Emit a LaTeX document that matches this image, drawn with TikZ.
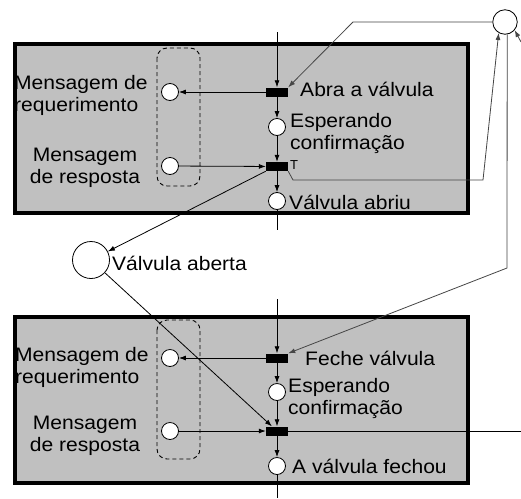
\documentclass[tikz,border=0pt]{standalone}
\usepackage{fontspec}
\setmainfont{Liberation Sans}
\newfontfamily\lblfamily[FakeStretch=1.08]{Liberation Sans}
\newcommand\lblfont{\lblfamily\fontsize{19.5}{22}\selectfont}
\usetikzlibrary{arrows.meta}
\definecolor{boxgray}{RGB}{192,192,192}
\definecolor{extline}{RGB}{70,70,70}
\begin{document}
\begin{tikzpicture}[x=1pt,y=-1pt,
  place/.style={circle,draw,fill=white,minimum size=17pt,inner sep=0pt,line width=0.8pt},
  bigplace/.style={circle,draw,fill=white,inner sep=0pt,line width=0.8pt},
  trans/.style={rectangle,fill=black,minimum width=22pt,minimum height=9pt,inner sep=0pt},
  lbl/.style={font=\lblfont,inner sep=0pt},
  arr/.style={-{Latex[length=7pt,width=5pt]},line width=0.8pt},
  extarr/.style={-{Latex[length=7pt,width=5pt]},line width=0.8pt,draw=extline},
  module/.style={draw,line width=4pt,fill=boxgray},
  group/.style={draw,dash pattern=on 4pt off 3pt,rounded corners=10pt,line width=0.9pt}]
\useasboundingbox (0,0) rectangle (521,498);
\fill[white] (0,0) rectangle (521,498);

% modules
\draw[module] (15,44) rectangle (468,213);
\draw[module] (15,317) rectangle (468,483);
\draw[group] (157,48) rectangle (200,186);
\draw[group] (157,320) rectangle (200,459);

% top module nodes
\node[place] (req1) at (170,92) {};
\node[place] (resp1) at (170,166) {};
\node[trans] (a1) at (277,92) {};
\node[place] (esp1) at (277,127) {};
\node[trans] (t1) at (277,166.5) {};
\node[place] (ab1) at (277,201) {};

% bottom module nodes
\node[place] (req2) at (170,358) {};
\node[place] (resp2) at (170,431) {};
\node[trans] (a2) at (277,358) {};
\node[place] (esp2) at (277,392) {};
\node[trans] (t2) at (277,431) {};
\node[place] (fe2) at (277,466) {};

% external places
\node[bigplace,minimum size=37pt] (va) at (91,260) {};
\node[bigplace,minimum size=24.5pt] (ext) at (505,22) {};

% labels
\node[lbl,align=left,anchor=west] (lreq1) at (14,95) {Mensagem de\\requerimento};
\node[lbl,align=center] (lresp1) at (85,168) {Mensagem\\de resposta};
\node[lbl,anchor=west] (la1) at (300,89) {Abra a válvula};
\node[lbl,align=left,anchor=west] (lesp1) at (290,133) {Esperando\\confirmação};
\node[inner sep=0pt,font=\fontsize{13}{14}\selectfont,anchor=west] (lt1) at (290,165) {T};
\node[lbl,anchor=west] (lab1) at (289,202) {Válvula abriu};
\node[lbl,anchor=west] (lva) at (112,263) {Válvula aberta};
\node[lbl,align=left,anchor=west] (lreq2) at (15,367) {Mensagem de\\requerimento};
\node[lbl,align=center] (lresp2) at (85,436) {Mensagem\\de resposta};
\node[lbl,anchor=west] (la2) at (305,358) {Feche válvula};
\node[lbl,align=left,anchor=west] (lesp2) at (288,398) {Esperando\\confirmação};
\node[lbl,anchor=west] (lfe2) at (292,466) {A válvula fechou};

% coordinates for free ends and bends
\coordinate (top1) at (277,32);
\coordinate (bot1) at (277,230);
\coordinate (top2) at (277,299);
\coordinate (bot2) at (277,498);
\coordinate (e1) at (353,22);
\coordinate (e2) at (293,180);
\coordinate (e3) at (483,180);
\coordinate (e4) at (507,268);
\coordinate (e5) at (521,42);
\coordinate (e6) at (521,431);

% top module flow
\draw[arr] (top1) -- (a1);
\draw[arr] (a1) -- (esp1);
\draw[arr] (esp1) -- (t1);
\draw[arr] (t1) -- (ab1);
\draw[line width=0.8pt] (ab1) -- (bot1);
\draw[arr] (a1) -- (req1);
\draw[arr] (resp1) -- (t1);

% bottom module flow
\draw[arr] (top2) -- (a2);
\draw[arr] (a2) -- (esp2);
\draw[arr] (esp2) -- (t2);
\draw[arr] (t2) -- (fe2);
\draw[line width=0.8pt] (fe2) -- (bot2);
\draw[arr] (a2) -- (req2);
\draw[arr] (resp2) -- (t2);

% inter-module connectors
\draw[arr] (t1.south west) -- (va);
\draw[arr] (va) -- (t2);
\draw[line width=0.8pt] (t2) -- (e6);
\draw[extarr] (ext) -- (e1) -- (a1.north east);
\draw[extarr] (t1.south east) -- (e2) -- (e3) -- (ext.240);
\draw[extarr] (ext.-80) -- (e4) -- (a2.north east);
\draw[extarr] (e5) -- (ext.-40);
\end{tikzpicture}
\end{document}
